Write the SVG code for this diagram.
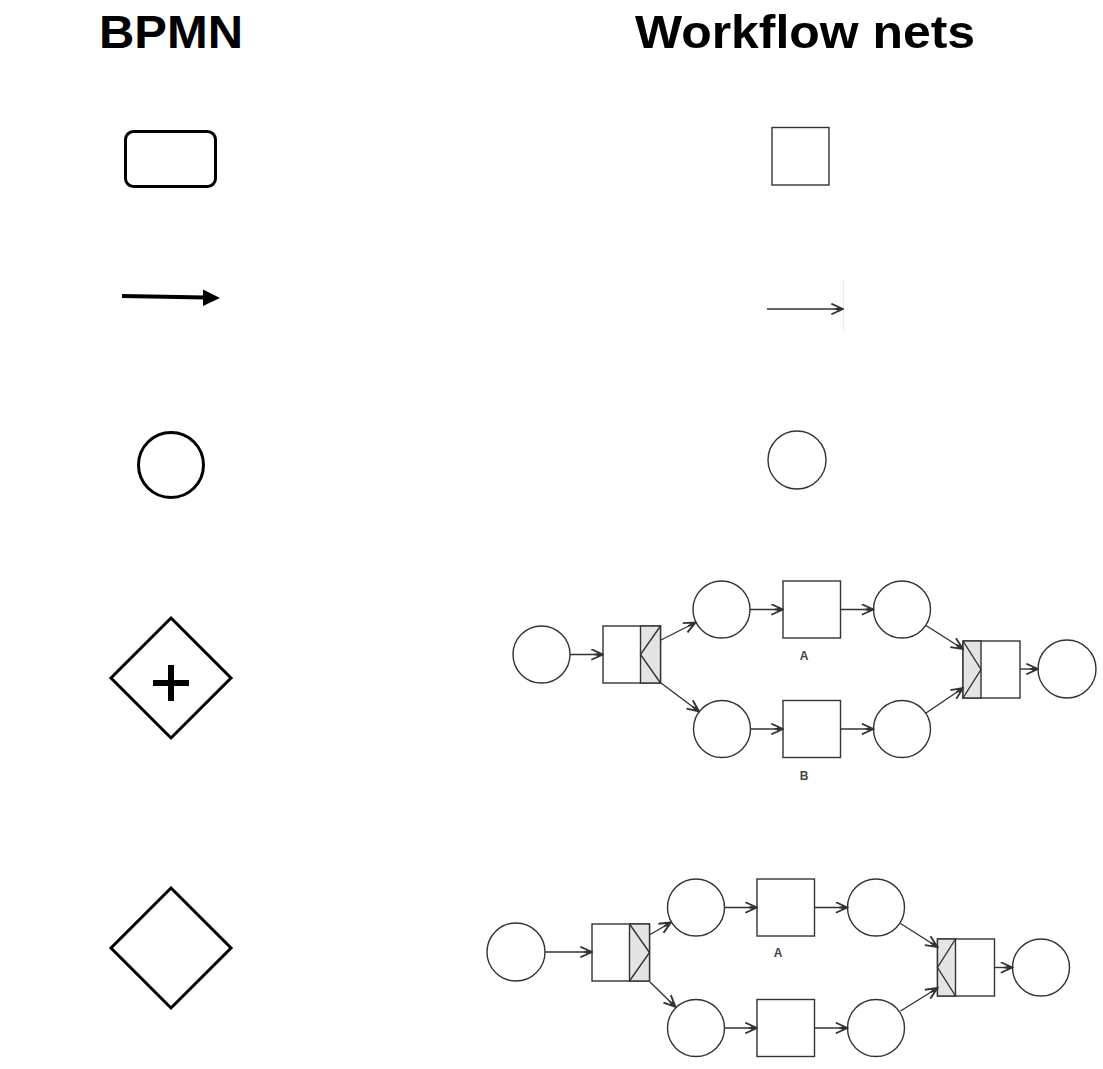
<svg xmlns="http://www.w3.org/2000/svg" width="1103" height="1069" viewBox="0 0 1103 1069">
<style>
.title{font-family:"Liberation Sans",Arial,sans-serif;font-weight:bold;font-size:47px;fill:#000;text-anchor:middle}
.bp{fill:none;stroke:#000;stroke-width:3}
.wf{fill:#fff;stroke:#333;stroke-width:1.4}
.dec{fill:#e4e4e4;stroke:#333;stroke-width:1.4}
.dl{fill:none;stroke:#333;stroke-width:1.4}
.arc{fill:none;stroke:#333;stroke-width:1.4;marker-end:url(#oa)}
.lbl{font-family:"Liberation Sans",Arial,sans-serif;font-size:12px;font-weight:bold;fill:#444;text-anchor:middle}
</style>
<defs>
<marker id="oa" markerUnits="userSpaceOnUse" markerWidth="14" markerHeight="12" refX="11" refY="5" orient="auto" viewBox="0 0 12 10">
<path d="M1,0.5 L11,5 L1,9.5 M4,5 L11,5" fill="none" stroke="#333" stroke-width="1.6"/>
<path d="M6,3 L11,5 L6,7 Z" fill="#333"/>
</marker>
</defs>
<rect width="1103" height="1069" fill="#fff"/>
<text class="title" x="171" y="48" textLength="144" lengthAdjust="spacingAndGlyphs">BPMN</text>
<text class="title" x="805" y="48" textLength="340" lengthAdjust="spacingAndGlyphs">Workflow nets</text>

<g id="bpmn-task"><rect class="bp" x="125.5" y="131.5" width="90" height="55" rx="8"/></g>
<g id="bpmn-flow">
<path d="M122,296 L205,297.5" stroke="#000" stroke-width="4" fill="none"/>
<path d="M203,289.5 L220,298 L203,306 Z" fill="#000"/>
</g>
<g id="bpmn-event"><circle class="bp" cx="171" cy="465" r="32.5"/></g>
<g id="bpmn-and">
<path class="bp" d="M171,618 L231,678 L171,738 L111,678 Z"/>
<path d="M171,665 V701 M153,683 H189" stroke="#000" stroke-width="6" fill="none"/>
</g>
<g id="bpmn-xor"><path class="bp" d="M171,888 L231,948 L171,1008 L111,948 Z"/></g>

<g id="wf-transition"><rect class="wf" x="772" y="127.5" width="57" height="57.5"/></g>
<g id="wf-arc">
<line x1="843.5" y1="280" x2="843.5" y2="330" stroke="#ececec" stroke-width="1"/>
<path class="arc" d="M767,309 L843,309"/>
</g>
<g id="wf-place"><circle class="wf" cx="797" cy="460" r="29"/></g>

<g id="and-net">
<g id="and-p1"><circle class="wf" cx="541.5" cy="654.5" r="28.5"/></g>
<g id="and-split">
<rect class="wf" x="603" y="626" width="57.5" height="57"/>
<rect class="dec" x="640.5" y="626" width="20" height="57"/>
<path class="dl" d="M660.5,626 L640.5,654.5 L660.5,683"/>
</g>
<g id="and-p2"><circle class="wf" cx="721.5" cy="609.5" r="28.5"/></g>
<g id="and-p3"><circle class="wf" cx="722" cy="729" r="28.5"/></g>
<g id="and-A"><rect class="wf" x="783" y="581" width="57.5" height="57"/><text class="lbl" x="804" y="660">A</text></g>
<g id="and-B"><rect class="wf" x="783" y="700.5" width="57.5" height="57"/><text class="lbl" x="804" y="780">B</text></g>
<g id="and-p4"><circle class="wf" cx="902" cy="609.5" r="28.5"/></g>
<g id="and-p5"><circle class="wf" cx="902" cy="729" r="28.5"/></g>
<g id="and-join">
<rect class="wf" x="963" y="641" width="57" height="57"/>
<rect class="dec" x="963" y="641" width="18" height="57"/>
<path class="dl" d="M963,641 L981,669.5 L963,698"/>
</g>
<g id="and-p6"><circle class="wf" cx="1067" cy="669" r="29"/></g>
</g>

<g id="xor-net">
<g id="xor-p1"><circle class="wf" cx="516" cy="952" r="29"/></g>
<g id="xor-split">
<rect class="wf" x="592" y="924" width="57.5" height="57"/>
<rect class="dec" x="629.5" y="924" width="20" height="57"/>
<path class="dl" d="M629.5,924 L649.5,952.5 L629.5,981"/>
</g>
<g id="xor-p2"><circle class="wf" cx="696" cy="907.5" r="28.5"/></g>
<g id="xor-p3"><circle class="wf" cx="696" cy="1028" r="28.5"/></g>
<g id="xor-A"><rect class="wf" x="757" y="879" width="57.5" height="57"/><text class="lbl" x="778" y="957">A</text></g>
<g id="xor-B"><rect class="wf" x="757" y="999.5" width="57.5" height="57"/></g>
<g id="xor-p4"><circle class="wf" cx="876" cy="907.5" r="28.5"/></g>
<g id="xor-p5"><circle class="wf" cx="876" cy="1028" r="28.5"/></g>
<g id="xor-join">
<rect class="wf" x="937.5" y="939" width="57" height="57"/>
<rect class="dec" x="937.5" y="939" width="18" height="57"/>
<path class="dl" d="M955.5,939 L937.5,967.5 L955.5,996"/>
</g>
<g id="xor-p6"><circle class="wf" cx="1041" cy="967.5" r="28.5"/></g>
</g>

<g id="connectors">
<path class="arc" d="M570,654.5 L603,654.5"/>
<path class="arc" d="M661,640 L695.5,622.5"/>
<path class="arc" d="M661,683 L699,711.5"/>
<path class="arc" d="M750,609.5 L783,609.5"/>
<path class="arc" d="M840.5,609.5 L873.5,609.5"/>
<path class="arc" d="M926,625.5 L963,649"/>
<path class="arc" d="M750.5,729 L783,729"/>
<path class="arc" d="M840.5,729 L873.5,729"/>
<path class="arc" d="M926,713 L963,688"/>
<path class="arc" d="M1020,669 L1038,669"/>

<path class="arc" d="M545,952 L592,952"/>
<path class="arc" d="M650,934.5 L671,922.5"/>
<path class="arc" d="M650,982 L675.5,1007"/>
<path class="arc" d="M724.5,907.5 L757,907.5"/>
<path class="arc" d="M814.5,907.5 L847.5,907.5"/>
<path class="arc" d="M900.5,923.5 L937.5,947"/>
<path class="arc" d="M724.5,1028 L757,1028"/>
<path class="arc" d="M814.5,1028 L847.5,1028"/>
<path class="arc" d="M900.5,1011 L937.5,988"/>
<path class="arc" d="M994.5,967.5 L1012.5,967.5"/>
</g>
</svg>
